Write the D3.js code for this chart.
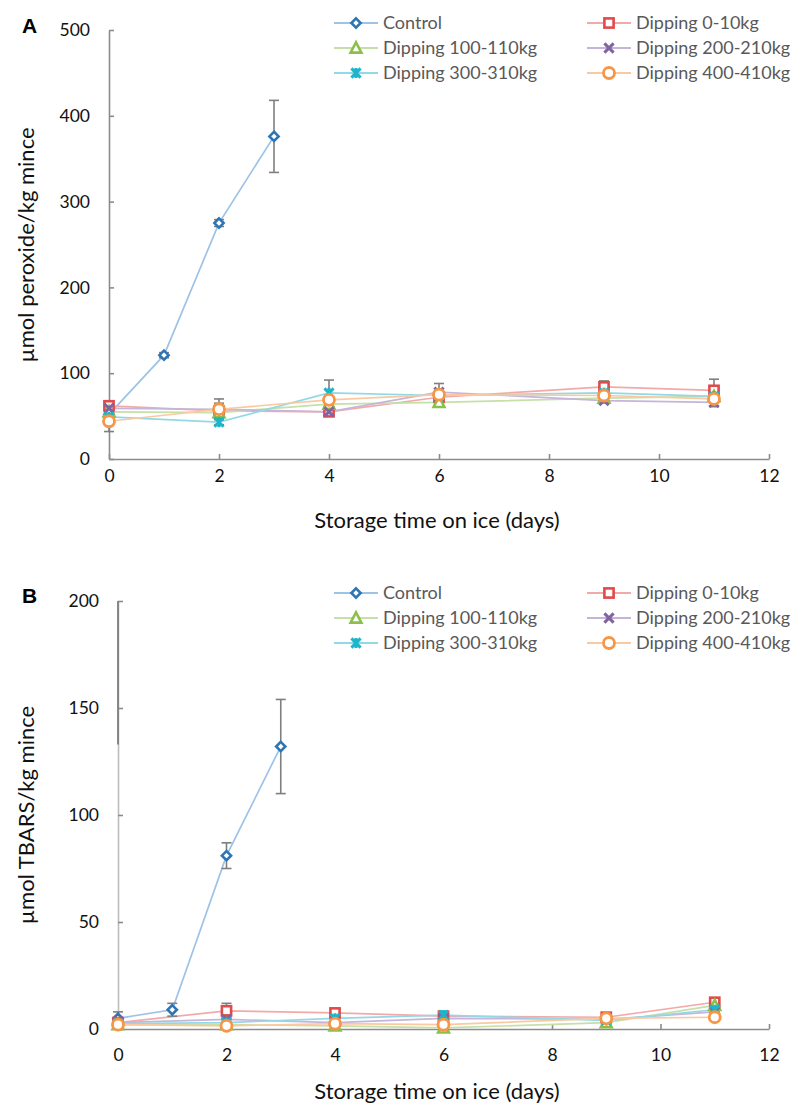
<!DOCTYPE html>
<html>
<head>
<meta charset="utf-8">
<script src="https://cdnjs.cloudflare.com/ajax/libs/d3/7.8.5/d3.min.js"></script>
<style>
  body { margin: 0; background: #fff; }
  svg { display: block; font-family: Lato, "Open Sans", sans-serif; }
</style>
</head>
<body>
<svg id="chart"></svg>
<script>
// days sampled
const daysControl = [0, 1, 2, 3];
const daysDipping = [0, 2, 4, 6, 9, 11];

const seriesNames = ["Control", "Dipping 0-10kg", "Dipping 100-110kg",
  "Dipping 200-210kg", "Dipping 300-310kg", "Dipping 400-410kg"];

// A: peroxide values (µmol/kg) and std errors
const ctrlPerox = [52, 121, 275, 376];
const ctrlPeroxErr = [4, 3, 4, 42];
const dip0Perox = [62, 56, 55, 72, 84, 80];
const dip0PeroxErr = [3, 9, 4, 6, 7, 13];
const dip100Perox = [55, 54, 64, 66, 71, 73];
const dip100PeroxErr = [3, 3, 3, 3, 3, 3];
const dip200Perox = [59, 58, 55, 78, 68, 66];
const dip200PeroxErr = [3, 4, 3, 10, 3, 5];
const dip300Perox = [49, 43, 77, 74, 77, 73];
const dip300PeroxErr = [3, 3, 15, 4, 4, 4];
const dip400Perox = [44, 58, 69, 75, 74, 70];
const dip400PeroxErr = [12, 12, 4, 5, 4, 4];

// B: TBARS values (µmol/kg) and std errors
const ctrlTbars = [5, 9, 81, 132];
const ctrlTbarsErr = [3, 3, 6, 22];
const dip0Tbars = [3, 8.5, 7.5, 6, 5.5, 12.5];
const dip0TbarsErr = [1, 3.5, 1, 1.5, 1, 1.5];
const dip100Tbars = [2, 2, 1.5, 0.5, 3, 11];
const dip100TbarsErr = [0.5, 0.5, 0.5, 0.5, 0.5, 1];
const dip200Tbars = [3, 4.5, 3, 5, 4.5, 8];
const dip200TbarsErr = [0.5, 1, 0.5, 1, 0.5, 1];
const dip300Tbars = [2.5, 3, 5, 6.5, 4, 9];
const dip300TbarsErr = [0.5, 0.5, 1, 1.5, 0.5, 1];
const dip400Tbars = [2, 1.5, 2.5, 2, 5, 5.5];
const dip400TbarsErr = [0.5, 0.5, 0.5, 0.5, 1, 1];

const xTicks = [0, 2, 4, 6, 8, 10, 12];
const yTicksA = [0, 100, 200, 300, 400, 500];
const yTicksB = [0, 50, 100, 150, 200];

// marker / line colours per series
const markerColors = ["#2e75b6", "#e04a4a", "#8cc04a", "#8064a2", "#1fb5c9", "#f79646"];
const lineColors = ["#9dc3e6", "#f4a9a9", "#c5e0a8", "#c6b4da", "#93d8e6", "#fbc99f"];
const markerTypes = ["diamond", "square", "triangle", "x", "star", "circle"];

const W = 791, H = 1103;
const svg = d3.select("#chart").attr("width", W).attr("height", H);
svg.append("rect").attr("width", W).attr("height", H).attr("fill", "#fff");

function makeSeries(vals, errs) {
  return vals.map((v, i) => ({ vals: v, errs: errs[i] }));
}

const panels = [
  {
    label: "A", labelY: 33,
    x: d3.scaleLinear().domain([0, 12]).range([109, 769]),
    y: d3.scaleLinear().domain([0, 500]).range([459, 30]),
    yTicks: yTicksA, xPad: 11,
    yTitle: "µmol peroxide/kg mince", yTitleY: 245,
    xTitleY: 528, legendY: 23,
    series: makeSeries([ctrlPerox, dip0Perox, dip100Perox, dip200Perox, dip300Perox, dip400Perox],
      [ctrlPeroxErr, dip0PeroxErr, dip100PeroxErr, dip200PeroxErr, dip300PeroxErr, dip400PeroxErr])
  },
  {
    label: "B", labelY: 603,
    x: d3.scaleLinear().domain([0, 12]).range([118, 769]),
    y: d3.scaleLinear().domain([0, 200]).range([1029, 601]),
    yTicks: yTicksB, xPad: 20,
    yTitle: "µmol TBARS/kg mince", yTitleY: 815,
    xTitleY: 1099, legendY: 593, darkAxisTo: 133,
    series: makeSeries([ctrlTbars, dip0Tbars, dip100Tbars, dip200Tbars, dip300Tbars, dip400Tbars],
      [ctrlTbarsErr, dip0TbarsErr, dip100TbarsErr, dip200TbarsErr, dip300TbarsErr, dip400TbarsErr])
  }
];

function drawMarker(g, type, color) {
  const s = 4.6;
  if (type === "diamond") {
    g.append("path").attr("d", `M0,${-s}L${s},0L0,${s}L${-s},0Z`)
      .attr("fill", "#fff").attr("stroke", color).attr("stroke-width", 2.6);
  } else if (type === "square") {
    g.append("rect").attr("x", -s).attr("y", -s).attr("width", 2 * s).attr("height", 2 * s)
      .attr("fill", "#fff").attr("stroke", color).attr("stroke-width", 2.6);
  } else if (type === "triangle") {
    g.append("path").attr("d", `M0,${-s - 1}L${s + 0.8},${s}L${-s - 0.8},${s}Z`)
      .attr("fill", "#fff").attr("stroke", color).attr("stroke-width", 2.6).attr("stroke-linejoin", "miter");
  } else if (type === "x") {
    g.append("path").attr("d", `M${-s},${-s}L${s},${s}M${s},${-s}L${-s},${s}`)
      .attr("stroke", color).attr("stroke-width", 3);
  } else if (type === "star") {
    // excel "star": an x with a vertical stroke through it
    g.append("path").attr("d", `M${-s},${-s}L${s},${s}M${s},${-s}L${-s},${s}M0,${-s - 0.5}L0,${s + 0.5}`)
      .attr("stroke", color).attr("stroke-width", 3);
  } else {
    g.append("circle").attr("r", s + 0.9)
      .attr("fill", "#fff").attr("stroke", color).attr("stroke-width", 2.8);
  }
}

panels.forEach(p => {
  const g = svg.append("g");
  const [x0, x1] = p.x.range();
  const [y0, y1] = p.y.range();

  // axes
  const gx = g.append("g").attr("transform", `translate(0,${y0})`)
    .call(d3.axisBottom(p.x).tickValues(xTicks).tickSize(-5).tickSizeOuter(0).tickPadding(p.xPad));
  const gy = g.append("g").attr("transform", `translate(${x0},0)`)
    .call(d3.axisLeft(p.y).tickValues(p.yTicks).tickSize(-5).tickSizeOuter(0).tickPadding(19));
  [gx, gy].forEach(ax => {
    ax.select(".domain").attr("stroke", "#8c8c8c").attr("stroke-width", 1.6);
    ax.selectAll(".tick line").attr("stroke", "#8c8c8c").attr("stroke-width", 1.6);
    ax.selectAll(".tick text").attr("fill", "#111").style("font-size", "17.5px").style("font-family", "Lato");
  });
  if (p.darkAxisTo) {
    gy.select(".domain").attr("stroke", "#bdbdbd");
    gy.append("line").attr("x1", 0).attr("x2", 0)
      .attr("y1", p.y(p.y.domain()[1])).attr("y2", p.y(p.darkAxisTo))
      .attr("stroke", "#7f7f7f").attr("stroke-width", 1.8);
  }

  // lines
  const line = d3.line().x(d => p.x(d[0])).y(d => p.y(d[1]));
  p.series.forEach((s, i) => {
    const days = i === 0 ? daysControl : daysDipping;
    const pts = days.map((d, j) => [d, s.vals[j], s.errs[j]]);
    g.append("path").attr("d", line(pts)).attr("fill", "none")
      .attr("stroke", lineColors[i]).attr("stroke-width", 1.7);
  });

  // error bars
  p.series.forEach((s, i) => {
    const days = i === 0 ? daysControl : daysDipping;
    days.forEach((d, j) => {
      const cx = p.x(d), top = p.y(s.vals[j] + s.errs[j]), bot = p.y(Math.max(0, s.vals[j] - s.errs[j]));
      const eb = g.append("g").attr("stroke", "#7f7f7f").attr("stroke-width", 1.6);
      eb.append("line").attr("x1", cx).attr("x2", cx).attr("y1", top).attr("y2", bot);
      eb.append("line").attr("x1", cx - 5).attr("x2", cx + 5).attr("y1", top).attr("y2", top);
      eb.append("line").attr("x1", cx - 5).attr("x2", cx + 5).attr("y1", bot).attr("y2", bot);
    });
  });

  // markers
  p.series.forEach((s, i) => {
    const days = i === 0 ? daysControl : daysDipping;
    days.forEach((d, j) => {
      const m = g.append("g").attr("transform", `translate(${p.x(d)},${p.y(s.vals[j])})`);
      drawMarker(m, markerTypes[i], markerColors[i]);
    });
  });

  // titles
  g.append("text").attr("x", 22).attr("y", p.labelY).text(p.label)
    .style("font-family", "Liberation Sans, Arial").style("font-weight", "bold").style("font-size", "21px");
  g.append("text").attr("x", 437).attr("y", p.xTitleY).attr("text-anchor", "middle")
    .text("Storage time on ice (days)").style("font-size", "22px").attr("fill", "#111");
  g.append("text").attr("transform", `translate(34,${p.yTitleY}) rotate(-90)`)
    .attr("text-anchor", "middle").text(p.yTitle).style("font-size", "22px").attr("fill", "#111");

  // legend
  const cols = [334, 587];
  seriesNames.forEach((name, i) => {
    const lx = cols[i % 2], ly = p.legendY + Math.floor(i / 2) * 25;
    const lg = g.append("g").attr("transform", `translate(${lx},${ly})`);
    lg.append("line").attr("x1", 0).attr("x2", 44).attr("stroke", lineColors[i]).attr("stroke-width", 1.8);
    drawMarker(lg.append("g").attr("transform", "translate(22,0)"), markerTypes[i], markerColors[i]);
    lg.append("text").attr("x", 49).attr("dy", "0.35em").text(name)
      .style("font-size", "18px").attr("fill", "#595959");
  });
});
</script>
</body>
</html>
